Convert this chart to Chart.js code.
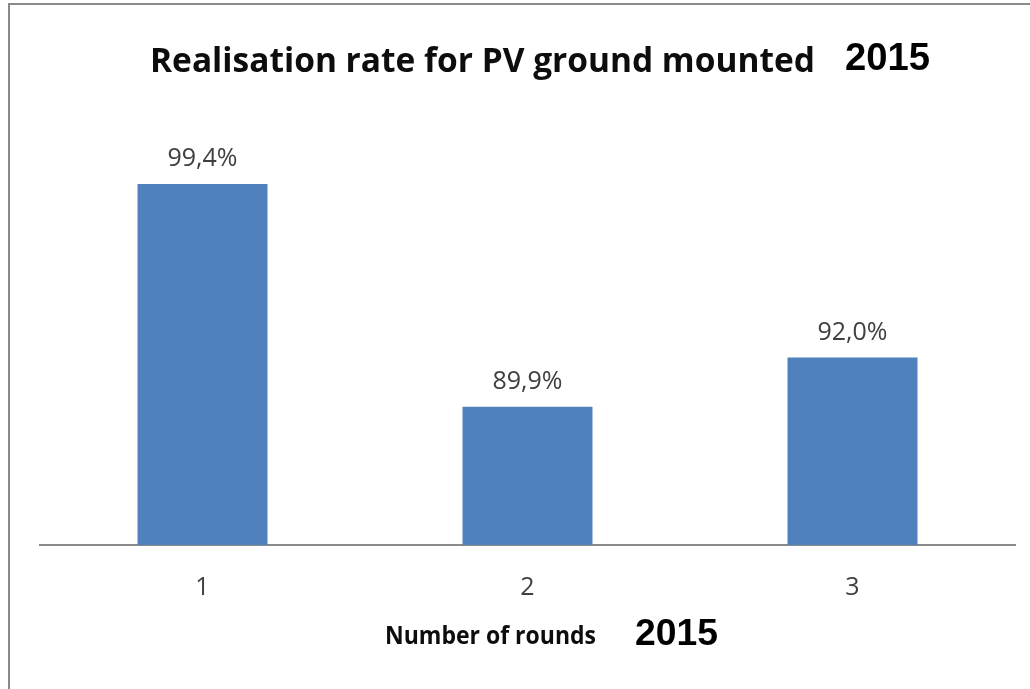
<!DOCTYPE html>
<html>
<head>
<meta charset="utf-8">
<script src="https://cdn.jsdelivr.net/npm/chart.js@4.4.1/dist/chart.umd.min.js"></script>
<style>
  html, body { margin: 0; padding: 0; background: #fff; }
  #wrap { width: 1030px; height: 689px; }
</style>
</head>
<body>
<div id="wrap"><canvas id="realisationChart" width="1030" height="689"></canvas></div>
<script>
const rounds = ['1', '2', '3'];
const realisationRates = [99.4, 89.9, 92.0];
const chartTitle = 'Realisation rate for PV ground mounted';
const axisTitle = 'Number of rounds';
const yearLabel = '2015';

const barColor = '#4f81bd';
const textColor = '#404040';

function formatRate(v) {
    return v.toFixed(1).replace('.', ',') + '%';
}

// draw text squeezed to a given width (the original uses a narrow Calibri)
function drawFitted(ctx, text, x, y, width, font, color) {
    ctx.save();
    ctx.font = font;
    ctx.fillStyle = color;
    ctx.textBaseline = 'alphabetic';
    ctx.textAlign = 'left';
    const w = ctx.measureText(text).width;
    ctx.translate(x, y);
    ctx.scale(width / w, 1);
    ctx.fillText(text, 0, 0);
    ctx.restore();
}

const decorPlugin = {
    id: 'decor',
    beforeDraw(chart) {
        const ctx = chart.ctx;
        ctx.save();
        ctx.fillStyle = '#fff';
        ctx.fillRect(0, 0, chart.width, chart.height);
        // frame of the pasted chart
        ctx.strokeStyle = '#8a8a8a';
        ctx.lineWidth = 2;
        ctx.beginPath();
        ctx.moveTo(9, chart.height);
        ctx.lineTo(9, 4);
        ctx.lineTo(chart.width, 4);
        ctx.stroke();
        ctx.restore();
    },
    afterDatasetsDraw(chart) {
        const ctx = chart.ctx;
        const meta = chart.getDatasetMeta(0);
        ctx.save();
        ctx.font = '25px "Open Sans"';
        ctx.fillStyle = textColor;
        ctx.textAlign = 'center';
        ctx.textBaseline = 'alphabetic';
        meta.data.forEach((bar, i) => {
            ctx.fillText(formatRate(realisationRates[i]), bar.x, bar.y - 18);
        });
        ctx.restore();
    },
    afterDraw(chart) {
        const ctx = chart.ctx;
        drawFitted(ctx, chartTitle, 150, 72, 665, 'bold 34px "Open Sans"', '#0d0d0d');
        drawFitted(ctx, yearLabel, 845, 70, 85, 'bold 38px "Liberation Sans"', '#000');
        drawFitted(ctx, axisTitle, 385, 644, 211, 'bold 25px "Open Sans"', '#0d0d0d');
        drawFitted(ctx, yearLabel, 635, 645, 83, 'bold 37px "Liberation Sans"', '#000');
    }
};

const ctx = document.getElementById('realisationChart').getContext('2d');

new Chart(ctx, {
    type: 'bar',
    data: {
        labels: rounds,
        datasets: [{
            label: 'Realisation rate',
            data: realisationRates,
            backgroundColor: barColor,
            borderWidth: 0,
            barPercentage: 0.4,
            categoryPercentage: 1.0
        }]
    },
    options: {
        responsive: false,
        animation: false,
        devicePixelRatio: 1,
        layout: {
            padding: { left: 40, right: 15, top: 170, bottom: 58 }
        },
        plugins: {
            legend: { display: false },
            title: { display: false },
            tooltip: { enabled: false }
        },
        scales: {
            x: {
                grid: { display: true, drawOnChartArea: false, drawTicks: false, color: 'transparent' },
                border: { display: true, color: '#8a8a8a', width: 2 },
                ticks: {
                    color: textColor,
                    font: { family: 'Open Sans', size: 25 },
                    padding: 28
                }
            },
            y: {
                display: false,
                min: 84,
                max: 100
            }
        }
    },
    plugins: [decorPlugin]
});
</script>
</body>
</html>
